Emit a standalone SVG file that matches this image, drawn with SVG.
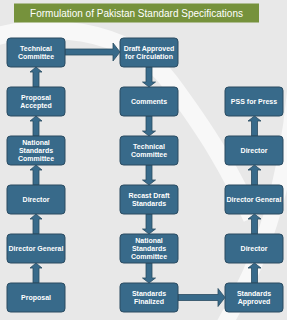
<svg xmlns="http://www.w3.org/2000/svg" width="287" height="320" viewBox="0 0 287 320">
<style>
.node rect{fill:#386a8a;stroke:#2a4b61;stroke-width:1}
.node text{fill:#fff;font-family:"Liberation Sans",Arial,sans-serif;font-weight:bold;font-size:7px;text-anchor:middle}
.arrow{fill:#386a8a;stroke:#2a4b61;stroke-width:0.8;stroke-linejoin:miter}
.band{fill:none;stroke:#f8f8f8}
</style>
<rect x="0" y="0" width="287" height="320" fill="#e8e8e8"/>
<g id="background">
<path class="band" stroke-width="18" d="M-20 42 C40 18 130 28 170 82 S230 170 252 218"/>
<path class="band" stroke-width="16" d="M295 92 Q282 230 222 328"/>
</g>
<g id="title">
<rect x="14" y="3.5" width="245" height="19" fill="#76923c"/>
<text x="136.5" y="16.8" fill="#fff" font-family="Liberation Sans,Arial,sans-serif" font-size="10" text-anchor="middle">Formulation of Pakistan Standard Specifications</text>
</g>
<g id="connectors">
<polygon class="arrow" points="65,49 113,49 113,43 120,52 113,61 113,55 65,55"/>
<polygon class="arrow" points="178,294.5 218,294.5 218,288.5 225,297.5 218,306.5 218,300.5 178,300.5"/>
<polygon class="arrow" points="33,87 33,72 30,72 36,67 42,72 39,72 39,87"/>
<polygon class="arrow" points="33,136 33,121 30,121 36,116 42,121 39,121 39,136"/>
<polygon class="arrow" points="33,185 33,170 30,170 36,165 42,170 39,170 39,185"/>
<polygon class="arrow" points="33,234 33,219 30,219 36,214 42,219 39,219 39,234"/>
<polygon class="arrow" points="33,283 33,268 30,268 36,263 42,268 39,268 39,283"/>
<polygon class="arrow" points="146,67 146,82 142.5,82 149,87 155.5,82 152,82 152,67"/>
<polygon class="arrow" points="146,116 146,131 142.5,131 149,136 155.5,131 152,131 152,116"/>
<polygon class="arrow" points="146,165 146,180 142.5,180 149,185 155.5,180 152,180 152,165"/>
<polygon class="arrow" points="146,214 146,229 142.5,229 149,234 155.5,229 152,229 152,214"/>
<polygon class="arrow" points="146,263 146,278 142.5,278 149,283 155.5,278 152,278 152,263"/>
<polygon class="arrow" points="251.5,136 251.5,121 248,121 254.5,116 261,121 257.5,121 257.5,136"/>
<polygon class="arrow" points="251.5,185 251.5,170 248,170 254.5,165 261,170 257.5,170 257.5,185"/>
<polygon class="arrow" points="251.5,234 251.5,219 248,219 254.5,214 261,219 257.5,219 257.5,234"/>
<polygon class="arrow" points="251.5,283 251.5,268 248,268 254.5,263 261,268 257.5,268 257.5,283"/>
</g>
<g id="n1" class="node"><rect x="7" y="38" width="58" height="29" rx="3.5"/><text x="36" y="50.9">Technical</text><text x="36" y="58.8">Committee</text></g>
<g id="n2" class="node"><rect x="7" y="87" width="58" height="29" rx="3.5"/><text x="36" y="99.9">Proposal</text><text x="36" y="107.8">Accepted</text></g>
<g id="n3" class="node"><rect x="7" y="136" width="58" height="29" rx="3.5"/><text x="36" y="145">National</text><text x="36" y="152.9">Standards</text><text x="36" y="160.8">Committee</text></g>
<g id="n4" class="node"><rect x="7" y="185" width="58" height="29" rx="3.5"/><text x="36" y="202">Director</text></g>
<g id="n5" class="node"><rect x="7" y="234" width="58" height="29" rx="3.5"/><text x="36" y="251">Director General</text></g>
<g id="n6" class="node"><rect x="7" y="283" width="58" height="29" rx="3.5"/><text x="36" y="300">Proposal</text></g>
<g id="n7" class="node"><rect x="120" y="38" width="58" height="29" rx="3.5"/><text x="149" y="50.9">Draft Approved</text><text x="149" y="58.8">for Circulation</text></g>
<g id="n8" class="node"><rect x="120" y="87" width="58" height="29" rx="3.5"/><text x="149" y="104">Comments</text></g>
<g id="n9" class="node"><rect x="120" y="136" width="58" height="29" rx="3.5"/><text x="149" y="148.9">Technical</text><text x="149" y="156.8">Committee</text></g>
<g id="n10" class="node"><rect x="120" y="185" width="58" height="29" rx="3.5"/><text x="149" y="197.9">Recast Draft</text><text x="149" y="205.8">Standards</text></g>
<g id="n11" class="node"><rect x="120" y="234" width="58" height="29" rx="3.5"/><text x="149" y="243">National</text><text x="149" y="250.9">Standards</text><text x="149" y="258.8">Committee</text></g>
<g id="n12" class="node"><rect x="120" y="283" width="58" height="29" rx="3.5"/><text x="149" y="295.9">Standards</text><text x="149" y="303.8">Finalized</text></g>
<g id="n13" class="node"><rect x="225" y="87" width="58" height="29" rx="3.5"/><text x="254" y="104">PSS for Press</text></g>
<g id="n14" class="node"><rect x="225" y="136" width="58" height="29" rx="3.5"/><text x="254" y="153">Director</text></g>
<g id="n15" class="node"><rect x="225" y="185" width="58" height="29" rx="3.5"/><text x="254" y="202">Director General</text></g>
<g id="n16" class="node"><rect x="225" y="234" width="58" height="29" rx="3.5"/><text x="254" y="251">Director</text></g>
<g id="n17" class="node"><rect x="225" y="283" width="58" height="29" rx="3.5"/><text x="254" y="295.9">Standards</text><text x="254" y="303.8">Approved</text></g>
</svg>
